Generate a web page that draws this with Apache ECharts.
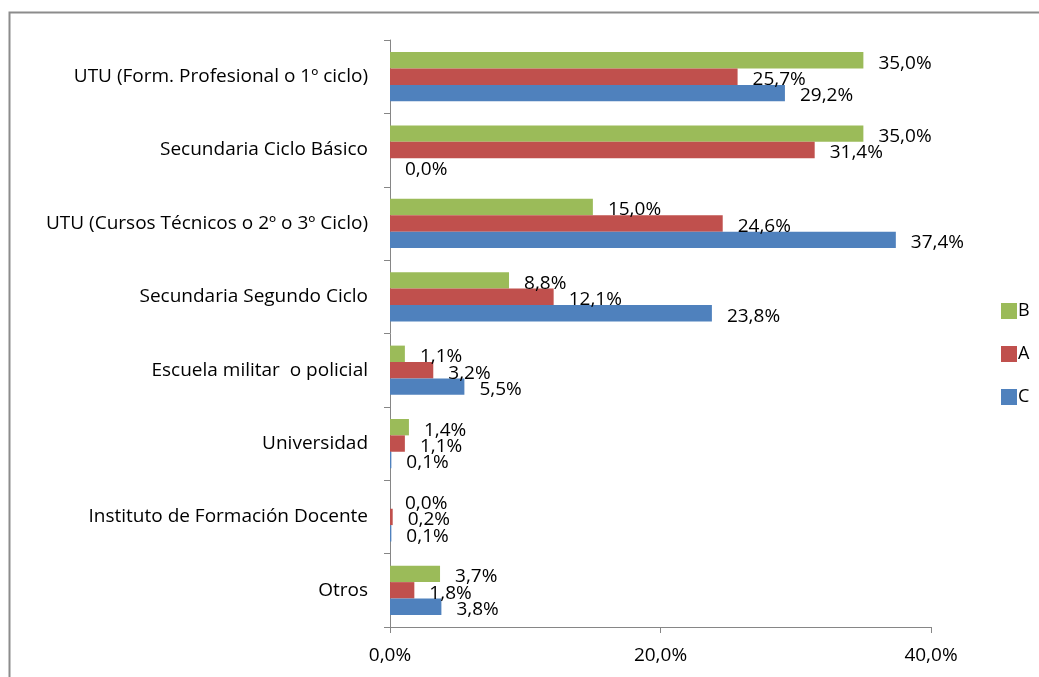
<!DOCTYPE html>
<html>
<head>
<meta charset="utf-8">
<script src="https://cdn.jsdelivr.net/npm/echarts@6/dist/echarts.min.js"></script>
<style>
  html, body { margin: 0; padding: 0; background: #fff; }
  #main { width: 1039px; height: 677px; }
</style>
</head>
<body>
<div id="main"></div>
<script>
// categories, top to bottom
var categories = [
  'UTU (Form. Profesional o 1º ciclo)',
  'Secundaria Ciclo Básico',
  'UTU (Cursos Técnicos o 2º o 3º Ciclo)',
  'Secundaria Segundo Ciclo',
  'Escuela militar  o policial',
  'Universidad',
  'Instituto de Formación Docente',
  'Otros'
];
var valuesB = [35.0, 35.0, 15.0, 8.8, 1.1, 1.4, 0.0, 3.7];
var valuesA = [25.7, 31.4, 24.6, 12.1, 3.2, 1.1, 0.2, 1.8];
var valuesC = [29.2, 0.0, 37.4, 23.8, 5.5, 0.1, 0.1, 3.8];
var xTicks = [0, 20, 40];

var font = 'Open Sans';
var fs = 19;
function pct(v) {
  return Number(v).toFixed(1).replace('.', ',') + '%';
}

function makeSeries(name, data, color) {
  return {
    name: name,
    type: 'bar',
    data: data,
    barGap: '0%',
    barCategoryGap: '33%',
    itemStyle: { color: color },
    label: {
      show: true,
      position: 'right',
      distance: 15,
      offset: [0, 3],
      color: '#000',
      fontFamily: font,
      fontSize: fs,
      formatter: function (p) { return pct(p.value); }
    }
  };
}

var myChart = echarts.init(document.getElementById('main'));
var option = {
  animation: false,
  backgroundColor: '#fff',
  graphic: [{
    type: 'rect',
    shape: { x: 9.5, y: 12.5, width: 1200, height: 800 },
    style: { fill: null, stroke: '#8c8c8c', lineWidth: 2 },
    silent: true
  }],
  grid: { left: 390, right: 108, top: 40, bottom: 50, containLabel: false },
  legend: {
    data: ['B', 'A', 'C'],
    orient: 'vertical',
    left: 996,
    top: 297,
    itemWidth: 16,
    itemHeight: 16,
    itemGap: 25,
    icon: 'rect',
    textStyle: { fontFamily: font, fontSize: 18, color: '#000', padding: [0, 0, 0, -4] }
  },
  xAxis: {
    type: 'value',
    min: xTicks[0],
    max: xTicks[xTicks.length - 1],
    interval: 20,
    splitLine: { show: false },
    axisLine: { show: true, lineStyle: { color: '#868686' } },
    axisTick: { show: true, length: 6, lineStyle: { color: '#868686' } },
    axisLabel: {
      margin: 19,
      color: '#000',
      fontFamily: font,
      fontSize: fs,
      formatter: function (v) { return pct(v); }
    }
  },
  yAxis: {
    type: 'category',
    inverse: true,
    data: categories,
    axisLine: { show: true, lineStyle: { color: '#868686' } },
    axisTick: { show: true, length: 6, lineStyle: { color: '#868686' } },
    axisLabel: {
      margin: 22,
      color: '#000',
      fontFamily: font,
      fontSize: fs
    }
  },
  series: [
    makeSeries('B', valuesB, '#9BBB59'),
    makeSeries('A', valuesA, '#C0504D'),
    makeSeries('C', valuesC, '#4F81BD')
  ]
};
myChart.setOption(option);
</script>
</body>
</html>
